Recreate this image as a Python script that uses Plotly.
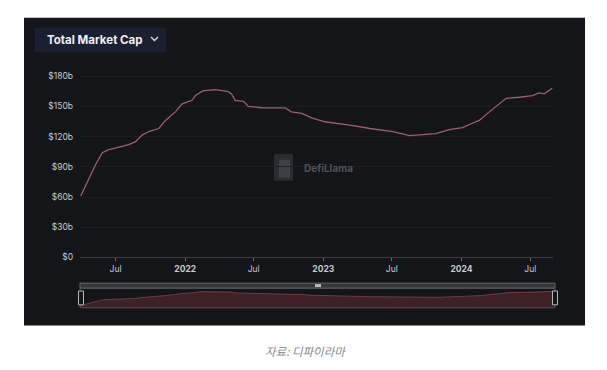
import plotly.graph_objects as go

W, H = 607, 370

dates = ["2021-03-31", "2021-04-22", "2021-05-09", "2021-05-27", "2021-06-13", "2021-07-10",
         "2021-08-05", "2021-08-23", "2021-09-09", "2021-09-27", "2021-10-23", "2021-11-10",
         "2021-12-06", "2021-12-24", "2022-01-19", "2022-01-28", "2022-02-18", "2022-02-23",
         "2022-03-21", "2022-04-25", "2022-05-04", "2022-05-13", "2022-06-04", "2022-06-17",
         "2022-07-22", "2022-09-22", "2022-10-09", "2022-11-05", "2022-12-01", "2023-01-05",
         "2023-02-14", "2023-03-12", "2023-05-04", "2023-07-04", "2023-08-17", "2023-09-12",
         "2023-10-26", "2023-11-30", "2024-01-04", "2024-01-22", "2024-02-17", "2024-03-15",
         "2024-04-06", "2024-04-28", "2024-06-02", "2024-07-07", "2024-07-24", "2024-08-07",
         "2024-08-28"]
tvl_b = [61, 79, 92, 104, 107, 109.5,
         112, 115, 121.5, 125, 128, 136,
         144.5, 152.5, 156, 160.7, 165.5, 165.5,
         166.5, 164.6, 162, 156, 155, 150,
         148.6, 148.4, 144.5, 143, 138.6, 134.7,
         133, 131.3, 128, 125, 121, 121.5,
         123, 127, 128.8, 132, 136, 144.5,
         151, 158, 159, 160.7, 163.3, 162.4,
         168]
values = [v * 1e9 for v in tvl_b]

y_ticks = [0, 30e9, 60e9, 90e9, 120e9, 150e9, 180e9]
y_labels = ["$0", "$30b", "$60b", "$90b", "$120b", "$150b", "$180b"]
x_ticks = ["2021-07-01", "2022-01-01", "2022-07-01", "2023-01-01", "2023-07-01", "2024-01-01", "2024-07-01"]
x_labels = ["Jul", "<b>2022</b>", "Jul", "<b>2023</b>", "Jul", "<b>2024</b>", "Jul"]


def px(x, y):
    return x / W, 1 - y / H


LINE = "#9c5f6b"
PANEL = "#141519"
FONT = "Inter"

fig = go.Figure()
fig.add_trace(go.Scatter(x=dates, y=values, mode="lines",
                         line=dict(color=LINE, width=1.3), xaxis="x", yaxis="y",
                         hoverinfo="skip", showlegend=False))
fig.add_trace(go.Scatter(x=dates, y=values, mode="lines", fill="tozeroy",
                         fillcolor="#3e2126", line=dict(color="#6e3c45", width=1),
                         xaxis="x2", yaxis="y2", hoverinfo="skip", showlegend=False))

xd = [px(80, 0)[0], px(553, 0)[0]]
shapes = []
# dark panel
x0, y0 = px(24, 18); x1, y1 = px(585, 330)
shapes.append(dict(type="rect", xref="paper", yref="paper", x0=x0, x1=x1, y0=y1, y1=y0,
                   fillcolor=PANEL, line=dict(width=0), layer="below"))
# title button
x0, y0 = px(35, 28); x1, y1 = px(166, 53)
shapes.append(dict(type="rect", xref="paper", yref="paper", x0=x0, x1=x1, y0=y1, y1=y0,
                   fillcolor="#1b2031", line=dict(width=0), layer="below"))
# chevron
a = px(151, 37.5); b = px(154.5, 41); c = px(158, 37.5)
shapes.append(dict(type="path", xref="paper", yref="paper",
                   path=f"M {a[0]},{a[1]} L {b[0]},{b[1]} L {c[0]},{c[1]}",
                   line=dict(color="#d8dbe2", width=1.4)))
# watermark logo
x0, y0 = px(274, 156); x1, y1 = px(293, 183)
shapes.append(dict(type="rect", xref="paper", yref="paper", x0=x0, x1=x1, y0=y1, y1=y0,
                   fillcolor="#2a2c30", line=dict(width=0), layer="below"))
x0, y0 = px(279, 162); x1, y1 = px(290, 180)
shapes.append(dict(type="rect", xref="paper", yref="paper", x0=x0, x1=x1, y0=y1, y1=y0,
                   fillcolor="#3e4045", line=dict(width=0), layer="below"))
# slider frame
x0, y0 = px(80, 292); x1, y1 = px(555, 312)
shapes.append(dict(type="rect", xref="paper", yref="paper", x0=x0, x1=x1, y0=y1, y1=y0,
                   fillcolor="rgba(0,0,0,0)", line=dict(color="#4e5157", width=1)))
x0, y0 = px(80, 287); x1, y1 = px(555, 292)
shapes.append(dict(type="rect", xref="paper", yref="paper", x0=x0, x1=x1, y0=y1, y1=y0,
                   fillcolor="#34363c", line=dict(color="#62656c", width=1)))
x0, y0 = px(315, 288); x1, y1 = px(321, 291)
shapes.append(dict(type="rect", xref="paper", yref="paper", x0=x0, x1=x1, y0=y1, y1=y0,
                   fillcolor="#b9bcc2", line=dict(width=0)))
for hx in (81, 555):
    x0, y0 = px(hx - 2.5, 295); x1, y1 = px(hx + 2.5, 309)
    shapes.append(dict(type="rect", xref="paper", yref="paper", x0=x0, x1=x1, y0=y1, y1=y0,
                       fillcolor=PANEL, line=dict(color="#b4b6bc", width=1)))

annotations = [
    dict(text="<b>Total Market Cap</b>", xref="paper", yref="paper", x=px(45, 0)[0], y=px(0, 40.5)[1],
         xanchor="left", yanchor="middle", showarrow=False,
         font=dict(family=FONT, size=11.5, color="#eef0f5")),
    dict(text="<b>DefiLlama</b>", xref="paper", yref="paper", x=px(302, 0)[0], y=px(0, 170.5)[1],
         xanchor="left", yanchor="middle", showarrow=False,
         font=dict(family=FONT, size=10, color="#505257")),
    dict(text="<i>자료: 디파이라마</i>", xref="paper", yref="paper", x=px(305, 0)[0], y=px(0, 356)[1],
         xanchor="center", yanchor="middle", showarrow=False,
         font=dict(family="Noto Sans CJK KR", size=11.5, color="#8a8a8a")),
]

fig.update_layout(
    width=W, height=H,
    margin=dict(l=0, r=0, t=0, b=0),
    paper_bgcolor="white", plot_bgcolor="rgba(0,0,0,0)",
    showlegend=False,
    shapes=shapes, annotations=annotations,
    xaxis=dict(domain=xd, type="date", range=["2021-03-29", "2024-08-30"],
               tickvals=x_ticks, ticktext=x_labels, showgrid=False, zeroline=False,
               showline=True, linecolor="#3c3e44", linewidth=1,
               ticks="outside", ticklen=3, tickcolor="#6a6c72",
               tickfont=dict(family=FONT, size=8.5, color="#c9cbd0"), fixedrange=True),
    yaxis=dict(domain=[px(0, 261)[1], px(0, 70)[1]], range=[0, 187e9],
               tickvals=y_ticks, ticktext=y_labels, showgrid=True, gridcolor="#1d1e23",
               gridwidth=1, zeroline=False, showline=False, ticks="",
               ticklabelstandoff=6,
               tickfont=dict(family=FONT, size=8.5, color="#c9cbd0"), fixedrange=True),
    xaxis2=dict(domain=[px(80, 0)[0], px(555, 0)[0]], type="date", anchor="y2",
                range=["2021-03-31", "2024-08-28"], visible=False, fixedrange=True),
    yaxis2=dict(domain=[px(0, 312)[1], px(0, 292)[1]], anchor="x2", range=[46e9, 192e9],
                visible=False, fixedrange=True),
)

fig.write_html("out.html", config={"displayModeBar": False})
